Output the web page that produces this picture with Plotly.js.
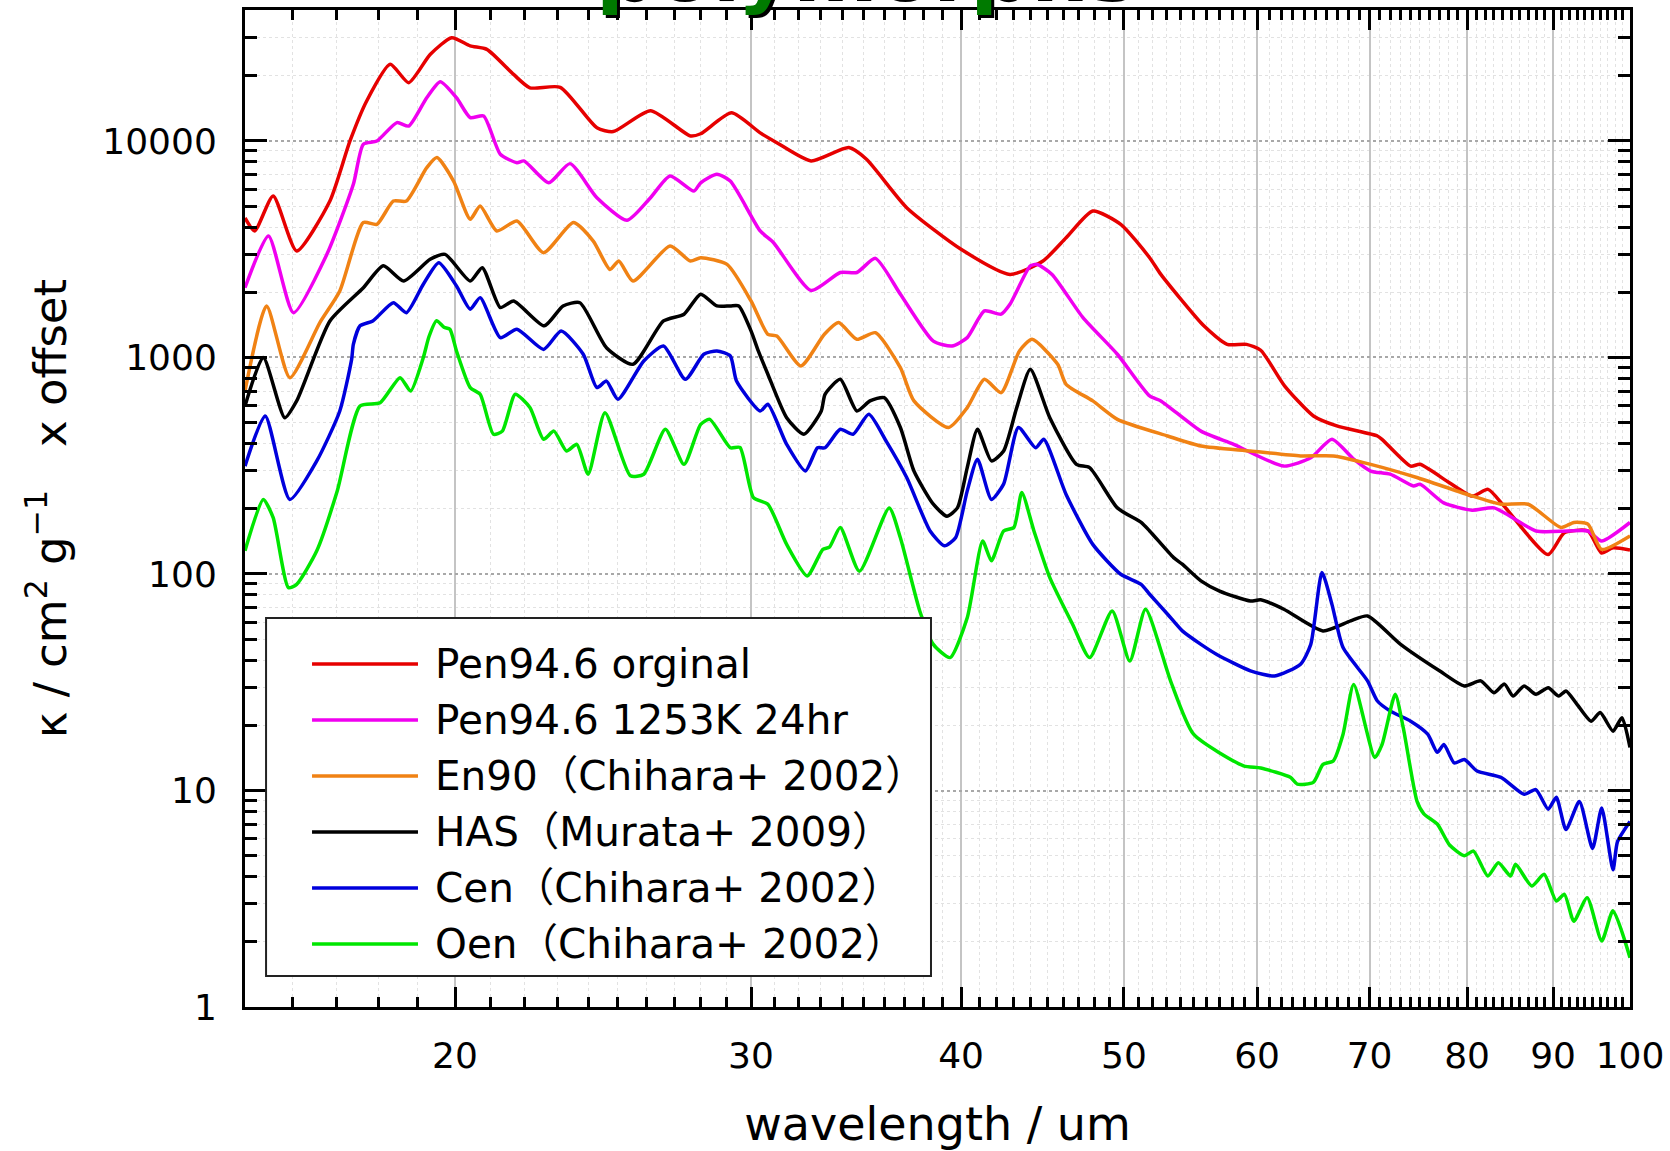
<!DOCTYPE html>
<html>
<head>
<meta charset="utf-8">
<script src="https://cdn.plot.ly/plotly-3.0.1.min.js"></script>
<style>
  html, body { margin: 0; padding: 0; background: #ffffff; }
  #chart { width: 1670px; height: 1151px; }
</style>
</head>
<body>
<div id="chart"></div>
<script>
// Mass absorption coefficient spectra (wavelength in um, kappa in cm^2/g, curves offset)

// Pen94.6 original
const lamPenOrig = [15.0, 15.2, 15.59, 16.10, 16.85, 17.32, 17.72, 18.30, 18.77, 19.33, 19.91, 20.42, 20.89, 21.67, 22.16, 23.10, 24.29, 24.84, 26.14, 27.61, 28.0, 29.21, 30.38, 31.08, 32.57, 34.30, 35.14, 37.13, 40.0, 42.77, 44.75, 46.19, 47.91, 49.78, 51.79, 52.59, 55.78, 57.59, 59.14, 60.3, 62.3, 64.82, 66.92, 70.75, 71.2, 74.05, 75.0, 78.08, 80.55, 82.33, 84.15, 89.38, 91.4, 94.4, 96.17, 97.7, 100];
const kapPenOrig = [4410, 3840, 5570, 3105, 5280, 10000, 15300, 22600, 18600, 25100, 30000, 27500, 26500, 20300, 17600, 17700, 11500, 11050, 13800, 10550, 10800, 13500, 10900, 9820, 8090, 9320, 8230, 4920, 3160, 2420, 2790, 3570, 4750, 4120, 2890, 2420, 1400, 1150, 1150, 1080, 740, 537, 483, 434, 419, 315, 321, 264, 229, 246, 206, 123, 155, 158, 125, 132, 129];

// Pen94.6 annealed 1253K 24hr
const lamPenAnn = [15.0, 15.49, 16.03, 16.78, 17.40, 17.64, 17.97, 18.47, 18.77, 19.24, 19.60, 20.04, 20.42, 20.80, 21.28, 21.77, 21.98, 22.74, 23.41, 24.29, 25.31, 26.14, 26.85, 27.74, 28.0, 28.63, 29.16, 30.38, 30.94, 32.57, 33.90, 34.68, 35.57, 36.81, 38.51, 39.51, 40.34, 41.30, 42.26, 42.77, 43.98, 44.4, 45.31, 47.27, 49.55, 51.79, 52.59, 55.56, 58.11, 62.24, 64.58, 66.48, 68.49, 70.1, 72.0, 74.34, 75.0, 77.48, 80.55, 83.02, 87.92, 91.8, 94.4, 96.17, 100];
const kapPenAnn = [2100, 3640, 1610, 2995, 6310, 9660, 10000, 12160, 11720, 15850, 18800, 15850, 12830, 13050, 8690, 7940, 8090, 6410, 7860, 5470, 4300, 5470, 6890, 5870, 6410, 7020, 6530, 3840, 3390, 2040, 2470, 2470, 2870, 1960, 1190, 1130, 1235, 1640, 1585, 1760, 2650, 2690, 2420, 1528, 1035, 664, 630, 457, 397, 315, 344, 419, 339, 299, 289, 255, 260, 213, 197, 202, 158, 158, 158, 142, 173];

// En90 (Chihara+ 2002)
const lamEn90 = [15.0, 15.45, 15.95, 16.62, 17.08, 17.64, 17.97, 18.38, 18.71, 19.24, 19.51, 19.96, 20.42, 20.70, 21.18, 21.77, 22.58, 23.52, 24.17, 24.73, 25.03, 25.52, 26.85, 27.61, 28.0, 29.03, 30.0, 30.7, 31.08, 32.12, 33.17, 33.82, 34.68, 35.57, 36.81, 37.5, 39.32, 40.34, 41.3, 42.26, 43.33, 44.09, 45.66, 46.19, 47.91, 49.55, 53.08, 55.56, 59.46, 63.68, 66.6, 70.1, 74.68, 80.03, 83.8, 86.98, 90.98, 92.6, 94.4, 96.17, 100];
const kapEn90 = [700, 1730, 807, 1450, 2030, 4200, 4120, 5280, 5280, 7530, 8380, 6530, 4350, 5010, 3840, 4270, 3050, 4200, 3450, 2550, 2790, 2255, 3270, 2790, 2890, 2690, 1824, 1280, 1256, 914, 1280, 1450, 1213, 1302, 897, 630, 475, 587, 793, 688, 1072, 1213, 930, 752, 630, 518, 434, 390, 370, 351, 351, 321, 279, 233, 210, 210, 164, 173, 170, 130, 150];

// HAS (Murata+ 2009)
const lamHAS = [15.0, 15.38, 15.84, 16.1, 16.85, 17.64, 18.13, 18.64, 19.33, 19.73, 20.42, 20.76, 21.28, 21.67, 22.6, 23.19, 23.73, 24.61, 25.52, 26.61, 27.37, 28.0, 28.63, 29.16, 29.5, 30.0, 30.3, 30.7, 31.5, 32.25, 33.03, 33.2, 33.9, 34.68, 35.31, 36.0, 36.81, 37.5, 38.51, 39.23, 39.8, 40.34, 40.91, 41.7, 42.4, 43.17, 43.98, 45.17, 46.85, 47.7, 49.55, 51.19, 51.79, 53.52, 54.16, 55.56, 57.0, 59.46, 60.3, 62.24, 65.67, 68.2, 69.8, 73.04, 77.03, 79.7, 81.5, 83.0, 84.2, 85.2, 86.5, 87.9, 89.4, 90.7, 91.6, 93.0, 94.8, 96.0, 97.7, 98.9, 100];
const kapHAS = [597, 1000, 527, 630, 1475, 2100, 2650, 2255, 2840, 2995, 2255, 2600, 1700, 1824, 1400, 1730, 1790, 1110, 930, 1475, 1585, 1960, 1730, 1730, 1730, 1327, 1072, 837, 527, 442, 566, 676, 793, 566, 630, 652, 475, 299, 210, 185, 202, 310, 466, 333, 370, 587, 882, 527, 321, 310, 202, 173, 158, 119, 111, 93, 83.4, 75, 76, 68.7, 54.6, 60.7, 64, 47.3, 35.7, 30.4, 32.1, 28.3, 31, 27.3, 30.4, 27.8, 29.8, 27.3, 28.8, 25.0, 20.9, 22.9, 18.8, 21.7, 15.8];

// Cen (Chihara+ 2002)
const lamCen = [15.0, 15.42, 15.95, 16.55, 17.08, 17.36, 17.40, 17.56, 17.87, 18.38, 18.71, 19.15, 19.56, 20.04, 20.42, 20.70, 21.28, 21.77, 22.58, 23.13, 23.84, 24.29, 24.61, 25.0, 25.9, 26.61, 27.42, 28.12, 28.63, 29.16, 29.41, 30.38, 30.7, 31.5, 32.32, 32.86, 33.2, 33.9, 34.5, 35.25, 36.1, 37.13, 38.34, 39.1, 39.7, 40.34, 40.91, 41.7, 42.4, 43.27, 44.3, 44.8, 46.19, 47.91, 49.78, 51.19, 51.79, 53.08, 54.16, 55.56, 56.75, 59.46, 61.46, 63.68, 64.58, 65.58, 66.48, 67.5, 69.8, 70.75, 72.0, 74.05, 75.8, 76.8, 77.5, 78.6, 79.7, 81.1, 83.8, 86.5, 87.9, 89.4, 90.4, 91.6, 93.3, 95.0, 96.2, 97.7, 98.3, 100];
const kapCen = [315, 537, 221, 333, 566, 983, 1150, 1400, 1475, 1790, 1610, 2180, 2740, 2140, 1670, 1890, 1235, 1350, 1090, 1325, 1035, 726, 778, 641, 963, 1130, 793, 1035, 1072, 1016, 778, 566, 608, 397, 299, 383, 383, 466, 442, 547, 411, 279, 158, 135, 147, 242, 339, 221, 260, 475, 383, 419, 233, 137, 99.7, 89.6, 80.6, 65.2, 54.6, 47.3, 42.6, 35.7, 33.8, 38.3, 47.3, 101.5, 72.4, 45.7, 32.1, 25.9, 23.3, 20.9, 18.2, 15.0, 16.3, 13.4, 13.9, 12.3, 11.5, 9.6, 10.1, 8.2, 9.3, 6.6, 8.9, 5.4, 8.3, 4.3, 5.8, 7.2];

// Oen (Chihara+ 2002)
const lamOen = [15.0, 15.38, 15.59, 15.92, 16.1, 16.55, 17.02, 17.56, 18.05, 18.55, 18.82, 19.15, 19.3, 19.5, 19.7, 19.86, 20.04, 20.42, 20.7, 21.08, 21.34, 21.72, 22.16, 22.58, 22.9, 23.3, 23.63, 24.0, 24.56, 25.43, 25.9, 26.68, 27.37, 28.0, 28.35, 29.16, 29.55, 30.1, 30.7, 31.5, 32.4, 33.1, 33.4, 33.9, 34.8, 36.25, 36.81, 37.8, 38.51, 39.4, 40.34, 41.2, 41.7, 42.4, 43.0, 43.47, 44.2, 45.17, 46.6, 47.7, 49.2, 50.4, 51.5, 53.3, 55.0, 58.9, 60.3, 62.8, 63.4, 64.8, 65.67, 66.6, 67.5, 68.49, 70.5, 71.2, 72.5, 73.3, 74.7, 75.4, 76.8, 78.1, 79.7, 80.7, 82.3, 83.5, 84.9, 85.5, 87.4, 88.9, 90.4, 91.4, 92.6, 94.3, 96.2, 97.7, 100];
const kapOen = [128, 221, 182, 86.5, 89.6, 128, 242, 597, 618, 807, 700, 1000, 1250, 1480, 1380, 1350, 1072, 726, 676, 442, 457, 676, 587, 419, 457, 370, 397, 289, 556, 284, 289, 466, 321, 491, 518, 383, 384, 225, 210, 137, 98, 130, 133, 164, 103, 202, 147, 67.5, 47.3, 41.1, 62.8, 142, 115, 158, 164, 238, 158, 96.2, 58.6, 41.1, 67.5, 39.6, 68.7, 32, 18.2, 13.0, 12.7, 11.5, 10.7, 10.9, 13.2, 13.7, 18.2, 30.9, 14.2, 16.3, 27.8, 19.5, 8.9, 7.8, 7.0, 5.6, 5.0, 5.25, 4.03, 4.64, 4.03, 4.56, 3.62, 4.1, 3.09, 3.32, 2.49, 3.2, 2.02, 2.78, 1.69];

const seriesNames = [
  'Pen94.6 orginal',
  'Pen94.6 1253K 24hr',
  'En90（Chihara+ 2002）',
  'HAS（Murata+ 2009）',
  'Cen（Chihara+ 2002）',
  'Oen（Chihara+ 2002）'
];
const seriesColors = ['#e60000', '#f000f0', '#f08214', '#000000', '#0000dc', '#00e600'];
const seriesLam = [lamPenOrig, lamPenAnn, lamEn90, lamHAS, lamCen, lamOen];
const seriesKap = [kapPenOrig, kapPenAnn, kapEn90, kapHAS, kapCen, kapOen];

const xTickVals = [20, 30, 40, 50, 60, 70, 80, 90, 100];
const yTickVals = [1, 10, 100, 1000, 10000];
const yTickText = ['1', '10', '100', '1000', '10000'];

// minor ticks: every 1 um along x, 2..9 per decade along y
const xMinor = [];
for (let v = 16; v < 100; v++) { if (v % 10 !== 0) xMinor.push(v); }
const yMinor = [];
for (let d = 1; d <= 10000; d *= 10) {
  for (let m = 2; m <= 9; m++) { if (m * d <= 40000) yMinor.push(m * d); }
}

const FONT = 'DejaVu Sans, Noto Sans CJK JP, sans-serif';

const traces = seriesNames.map((name, i) => ({
  type: 'scatter',
  mode: 'lines',
  name: name,
  x: seriesLam[i],
  y: seriesKap[i],
  line: { color: seriesColors[i], width: 3.5, shape: 'spline', smoothing: 0.6 },
  showlegend: false,
  hoverinfo: 'x+y+name'
}));

// hand-built legend box (long line samples), in paper coordinates
const legBox = { x0: 0.0152, x1: 0.4953, y0: 0.0311, y1: 0.3902 };
const legLineX = [0.0484, 0.1249];
const legTextX = 0.1355;
const legRowTop = 0.3440;
const legRowStep = 0.05615;

const shapes = [{
  type: 'rect', xref: 'paper', yref: 'paper',
  x0: legBox.x0, x1: legBox.x1, y0: legBox.y0, y1: legBox.y1,
  line: { color: '#222222', width: 2 }, fillcolor: '#ffffff', layer: 'above'
}];
const annotations = [];
seriesNames.forEach((name, i) => {
  const yy = legRowTop - i * legRowStep;
  shapes.push({
    type: 'line', xref: 'paper', yref: 'paper',
    x0: legLineX[0], x1: legLineX[1], y0: yy, y1: yy,
    line: { color: seriesColors[i], width: 3.5 }, layer: 'above'
  });
  annotations.push({
    xref: 'paper', yref: 'paper', x: legTextX, y: yy,
    xanchor: 'left', yanchor: 'middle', showarrow: false,
    text: name, font: { family: FONT, size: 40.5, color: '#000000' }
  });
});

// heading sitting at the very top edge
annotations.push({
  xref: 'paper', yref: 'paper', x: 0.4477, y: 0.991,
  xanchor: 'center', yanchor: 'bottom', showarrow: false,
  text: 'polymorphs',
  font: { family: 'DejaVu Sans, sans-serif', size: 81, color: '#007a00', weight: 'bold', shadow: '3px 3px 0px #000000' }
});

const layout = {
  width: 1670, height: 1151,
  margin: { l: 245, r: 40, t: 10, b: 144 },
  paper_bgcolor: '#ffffff', plot_bgcolor: '#ffffff',
  showlegend: false,
  font: { family: FONT, color: '#000000' },
  xaxis: {
    type: 'log',
    range: [Math.log10(15), 2],
    tickmode: 'array', tickvals: xTickVals, ticktext: xTickVals.map(String),
    ticks: 'inside', ticklen: 20, tickwidth: 2.5, tickcolor: '#000000',
    showline: true, linecolor: '#000000', linewidth: 3, mirror: 'allticks',
    showgrid: true, gridcolor: '#c4c4c4', gridwidth: 1.5,
    tickfont: { family: FONT, size: 36, color: '#000000' },
    ticklabelstandoff: 15,
    minor: {
      tickmode: 'array', tickvals: xMinor,
      ticks: 'inside', ticklen: 10, tickwidth: 2.5, tickcolor: '#000000',
      showgrid: true, gridcolor: '#e2e2e2', gridwidth: 1, griddash: 'dot'
    },
    title: { text: 'wavelength / um', font: { family: FONT, size: 46, color: '#000000' }, standoff: 36 },
    zeroline: false, automargin: false
  },
  yaxis: {
    type: 'log',
    range: [0, 4.605],
    tickmode: 'array', tickvals: yTickVals, ticktext: yTickText,
    ticks: 'inside', ticklen: 22, tickwidth: 2.5, tickcolor: '#000000',
    showline: true, linecolor: '#000000', linewidth: 3, mirror: 'allticks',
    showgrid: true, gridcolor: '#a8a8a8', gridwidth: 1.5, griddash: 'dot',
    tickfont: { family: FONT, size: 36, color: '#000000' },
    ticklabelstandoff: 18,
    minor: {
      tickmode: 'array', tickvals: yMinor,
      ticks: 'inside', ticklen: 12, tickwidth: 2.5, tickcolor: '#000000',
      showgrid: true, gridcolor: '#e2e2e2', gridwidth: 1, griddash: 'dot'
    },
    title: { text: 'κ / cm<sup>2</sup> g<sup>−1</sup>\u00a0\u00a0 x offset', font: { family: FONT, size: 45, color: '#000000' }, standoff: 22 },
    zeroline: false, automargin: false
  },
  shapes: shapes,
  annotations: annotations
};

Plotly.newPlot('chart', traces, layout, { displayModeBar: false, responsive: false });
</script>
</body>
</html>
